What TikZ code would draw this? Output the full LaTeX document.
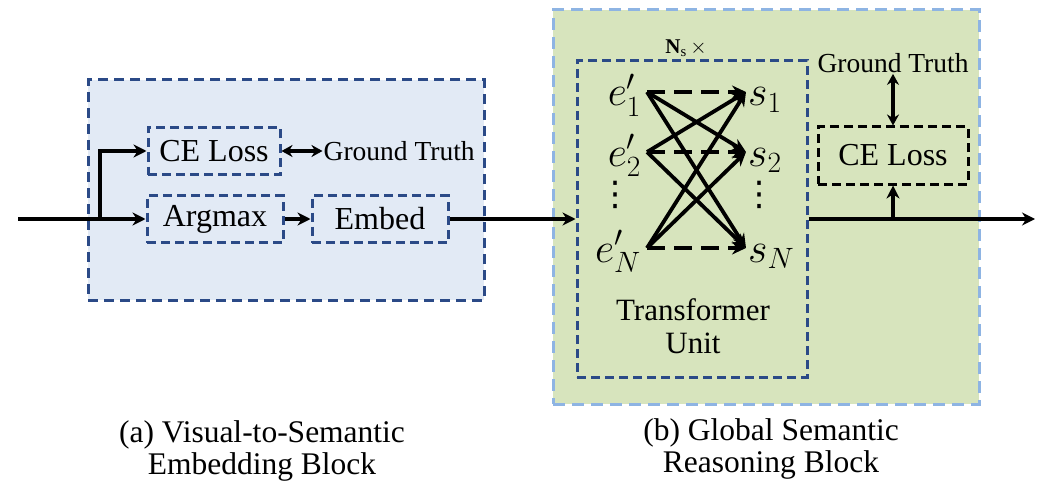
\documentclass[tikz,border=0pt]{standalone}
\usepackage{fix-cm}
\usepackage{fontspec}
\setmainfont{Liberation Serif}
\newfontfamily\tmsfont{Liberation Serif}
\newfontfamily\symfont{DejaVu Sans}
\usepackage{tikz}
\usetikzlibrary{arrows.meta,positioning,calc}
\definecolor{dkblue}{HTML}{2B4A87}
\definecolor{vsefill}{HTML}{E2EAF5}
\definecolor{gsrfill}{HTML}{D7E4BD}
\definecolor{gsrline}{HTML}{8EB4E3}

\begin{document}
\begin{tikzpicture}[
  x=1pt, y=-1pt,
  every node/.style={align=center},
  panel/.style={line width=3pt, dash pattern=on 10pt off 6pt},
  box/.style={draw=dkblue, line width=3pt, dash pattern=on 9pt off 5pt,
    minimum width=136pt, minimum height=47pt, inner sep=0pt,
    font=\tmsfont\fontsize{32}{36}\selectfont},
  lossbox/.style={box, draw=black, minimum width=150pt, minimum height=57pt},
  gt/.style={font=\tmsfont\fontsize{27.5}{32}\selectfont, inner sep=1pt},
  arr/.style={line width=3.6pt, -{Stealth[length=13pt,width=13pt]}},
  biarr/.style={line width=3.6pt, {Stealth[length=11pt,width=12pt]}-{Stealth[length=11pt,width=12pt]}},
  mth/.style={font=\fontsize{42}{44}\selectfont, inner ysep=0pt,
    text height=34pt, text depth=6pt},
  dotcol/.style={font=\symfont\fontsize{34}{36}\selectfont, inner sep=0pt},
  link/.style={line width=3.8pt, -{Stealth[length=14pt,width=13pt]}},
  captxt/.style={font=\tmsfont\fontsize{31.5}{32}\selectfont}
]
\useasboundingbox (0,0) rectangle (1049,500);

% (a) visual-to-semantic embedding
\node[panel, draw=dkblue, fill=vsefill, minimum width=396pt, minimum height=220pt] (vse) at (286,190) {};
\node[box, minimum width=132pt] (ce1) at (214,151) {CE Loss};
\node[box] (am) at (215,219) {Argmax};
\node[box] (em) at (380,219) {Embed};
\node[gt, right=41pt of ce1] (gt1) {Ground Truth};
\coordinate (in) at (18,219);
\coordinate (split) at (100,219);

\draw[arr] (in) -- (am);
\draw[arr] (split) |- (ce1);
\draw[biarr] (ce1) -- (gt1);
\draw[arr] (am) -- (em);

% (b) global semantic reasoning
\node[panel, draw=gsrline, fill=gsrfill, dash pattern=on 12pt off 7pt, minimum width=426pt, minimum height=394pt] (gsr) at (766,207) {};
\node[box, minimum width=230pt, minimum height=316pt] (tu) at (692,219) {};
\node[font=\tmsfont\fontsize{21}{24}\selectfont, inner sep=0pt] (reps) at (686,48) {\textbf{N}\textsubscript{s}\,$\times$};

\node[mth, anchor=east, inner xsep=6pt] (e1) at (647,92) {$e'_1$};
\node[mth, anchor=east, inner xsep=6pt] (e2) at (647,152) {$e'_2$};
\node[mth, anchor=east, inner xsep=6pt] (eN) at (647,248) {$e'_N$};
\node[mth, anchor=west, inner xsep=2pt] (s1) at (746,92) {$s_1$};
\node[mth, anchor=west, inner xsep=2pt] (s2) at (746,152) {$s_2$};
\node[mth, anchor=west, inner xsep=2pt] (sN) at (746,248) {$s_N$};
\node[dotcol] (edots) at (615,195) {⋮};
\node[dotcol] (sdots) at (759,195) {⋮};

\foreach \i/\j in {1/2,1/N,2/1,2/N,N/1,N/2}
  \draw[link] (e\i.east) -- (s\j.west);
\foreach \i in {1,2,N}
  \draw[link, dash pattern=on 18pt off 9pt] (e\i.east) -- (s\i.west);

\node[font=\tmsfont\fontsize{31}{33}\selectfont] (tulab) at (693,326) {Transformer\\Unit};

\node[lossbox] (ce2) at (893,155.5) {CE Loss};
\node[gt] (gt2) at (893,63) {Ground Truth};
\coordinate (out) at (1035,219);

\draw[arr] (em) -- (tu);
\draw[arr] (tu) -- (out);
\draw[arr] (ce2 |- out) -- (ce2);
\draw[biarr] (gt2) -- (ce2);

% captions
\node[captxt] (capa) at (262,451) {(a) Visual-to-Semantic\\Embedding Block};
\node[captxt] (capb) at (771,449) {(b) Global Semantic\\Reasoning Block};
\end{tikzpicture}
\end{document}
